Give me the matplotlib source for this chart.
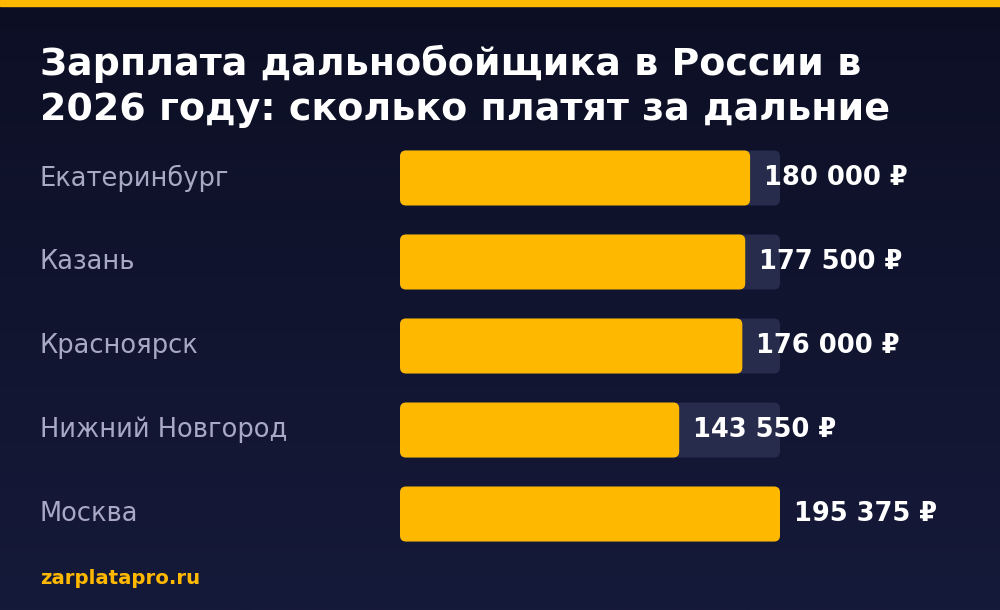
import numpy as np
import matplotlib.pyplot as plt
from matplotlib.patches import FancyBboxPatch

cities = ['Екатеринбург', 'Казань', 'Красноярск', 'Нижний Новгород', 'Москва']
salaries = [180000, 177500, 176000, 143550, 195375]
value_labels = ['180 000 ₽', '177 500 ₽', '176 000 ₽', '143 550 ₽', '195 375 ₽']
title = 'Зарплата дальнобойщика в России в\n2026 году: сколько платят за дальние'
source = 'zarplatapro.ru'

plt.rcParams['font.family'] = ['DejaVu Sans']
W, H = 1000, 610
fig = plt.figure(figsize=(10, 6.1), dpi=100)

# background gradient
bg = fig.add_axes([0, 0, 1, 1])
grad = np.linspace(0, 1, 256).reshape(-1, 1)
c1 = np.array([12, 15, 36]) / 255
c2 = np.array([22, 26, 58]) / 255
img = c1 + grad[..., None] * (c2 - c1)
bg.imshow(np.repeat(img, 2, axis=1), aspect='auto', extent=[0, 1, 0, 1], origin='upper')
bg.axis('off')
fig.patches.append(plt.Rectangle((0, 1 - 6 / H), 1, 6 / H, transform=fig.transFigure,
                                 color='#ffb800', zorder=5))

fig.text(40 / W, 1 - 45 / H, title, color='white', fontsize=27.4, fontweight='bold',
         va='top', ha='left', linespacing=1.3)
fig.text(40 / W, 1 - 579 / H, source, color='#ffb800', fontsize=14.2, fontweight='bold',
         va='center', ha='left')

vmax = max(salaries)
ax = fig.add_axes([400 / W, (H - 542) / H, 380 / W, 392 / H])
ax.set_xlim(0, vmax)
ax.set_ylim(4.333, -0.333)
ax.axis('off')
ax.patch.set_alpha(0)

px_x = vmax / 380
px_y = 1 / 84
bh = 55 * px_y
r = 6 * px_x
asp = (6 * px_y) / r
for i, (city, v, lab) in enumerate(zip(cities, salaries, value_labels)):
    ax.add_patch(FancyBboxPatch((0, i - bh / 2), vmax, bh, boxstyle=f'round,pad=0,rounding_size={r}',
                                mutation_aspect=asp, fc='#272b4c', ec='none'))
    ax.add_patch(FancyBboxPatch((0, i - bh / 2), v, bh, boxstyle=f'round,pad=0,rounding_size={r}',
                                mutation_aspect=asp, fc='#ffb800', ec='none'))
    ax.text(v + 14 * px_x, i, lab, color='white', fontsize=18.5, fontweight='bold',
            va='center', ha='left', clip_on=False)
    ax.text(-360 * px_x, i, city, color='#a9a9c6', fontsize=18.5, va='center', ha='left',
            clip_on=False)

fig.savefig('out.png', dpi=100)
